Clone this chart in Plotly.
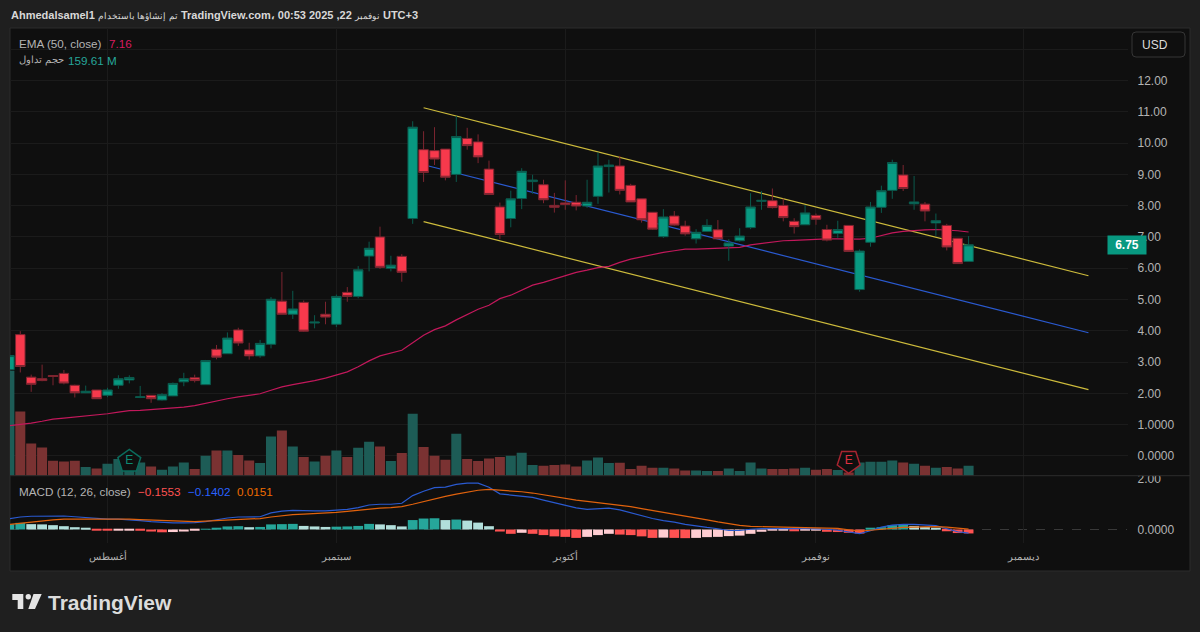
import plotly.graph_objects as go

# sessions are plotted by position, so gaps for weekends don't show
sessions = list(range(89))

opens = [2.76, 3.88, 2.52, 2.47, 2.57, 2.64, 2.26, 2.02, 2.11, 1.94,
         2.26, 2.43, 1.87, 1.94, 1.79, 1.92, 2.37, 2.50, 2.28, 3.41,
         3.27, 4.03, 3.39, 3.20, 3.57, 4.95, 4.53, 4.91, 4.25, 4.53,
         4.21, 5.23, 5.10, 6.39, 7.00, 6.00, 6.38, 7.59, 9.79, 9.76,
         9.81, 9.00, 10.15, 10.04, 9.17, 7.96, 7.59, 8.23, 8.77, 8.67,
         8.01, 8.09, 8.11, 7.99, 8.30, 9.25, 9.27, 8.65, 8.22, 7.79,
         7.01, 7.67, 7.35, 6.94, 7.18, 7.23, 6.71, 6.88, 7.30, 8.14,
         8.16, 8.01, 7.50, 7.39, 7.69, 7.24, 7.11, 7.37, 5.32, 6.83,
         7.95, 8.49, 8.98, 8.06, 8.05, 7.45, 7.37, 6.96, 6.22]
highs = [3.21, 3.99, 2.60, 2.92, 2.57, 2.75, 2.28, 2.25, 2.11, 2.18,
         2.58, 2.58, 2.24, 1.94, 2.01, 2.35, 2.66, 2.60, 3.07, 3.55,
         3.95, 4.10, 3.62, 3.71, 5.08, 5.88, 5.28, 4.97, 4.50, 4.93,
         5.16, 5.40, 6.07, 6.85, 7.33, 6.40, 6.45, 10.70, 10.38, 10.51,
         9.81, 10.87, 10.49, 10.28, 9.44, 8.10, 8.48, 9.20, 8.99, 8.83,
         8.41, 8.81, 8.34, 8.83, 9.70, 9.47, 9.59, 8.70, 8.22, 7.79,
         7.89, 7.83, 7.52, 7.25, 7.57, 7.54, 6.93, 7.28, 8.40, 8.47,
         8.55, 8.23, 7.60, 8.02, 7.75, 7.39, 7.52, 7.37, 6.60, 8.12,
         8.64, 9.47, 9.30, 8.95, 8.12, 7.75, 7.42, 6.96, 7.03]
lows = [2.76, 2.67, 2.05, 2.39, 2.26, 2.29, 1.87, 2.01, 1.83, 1.88,
        2.15, 2.32, 1.85, 1.70, 1.77, 1.91, 2.23, 2.35, 2.27, 3.09,
        3.26, 3.52, 3.08, 3.14, 3.44, 4.53, 4.38, 3.97, 4.08, 4.21,
        4.12, 4.93, 5.04, 5.90, 5.98, 5.90, 5.57, 7.42, 8.76, 9.30,
        8.81, 8.76, 9.79, 9.36, 8.34, 6.93, 7.31, 7.89, 8.38, 8.08,
        7.78, 7.87, 7.85, 7.93, 8.06, 8.42, 8.36, 8.12, 7.46, 7.23,
        6.97, 7.36, 7.04, 6.79, 7.16, 6.93, 6.24, 6.85, 7.25, 7.87,
        7.91, 7.50, 7.11, 7.38, 7.39, 6.86, 6.97, 6.54, 5.25, 6.69,
        7.77, 8.22, 8.47, 7.87, 7.50, 7.04, 6.57, 6.15, 6.21]
closes = [3.21, 2.86, 2.29, 2.41, 2.54, 2.33, 2.02, 2.07, 1.83, 2.11,
          2.47, 2.51, 1.89, 1.83, 1.96, 2.32, 2.47, 2.41, 3.05, 3.16,
          3.77, 3.61, 3.20, 3.60, 5.01, 4.53, 4.70, 3.99, 4.28, 4.44,
          5.10, 5.10, 5.95, 6.64, 6.03, 6.10, 5.87, 10.51, 9.06, 9.49,
          8.91, 10.21, 9.92, 9.56, 8.36, 7.08, 8.22, 9.10, 8.82, 8.19,
          7.95, 8.04, 7.99, 8.11, 9.27, 9.30, 8.49, 8.12, 7.55, 7.25,
          7.64, 7.38, 7.10, 7.15, 7.37, 6.94, 6.81, 7.03, 7.96, 8.17,
          7.94, 7.62, 7.33, 7.77, 7.57, 6.90, 7.24, 6.54, 6.55, 7.96,
          8.48, 9.38, 8.55, 8.12, 7.83, 7.52, 6.68, 6.15, 6.75]

# millions of shares
volumes = [1680, 1029, 517, 453, 240, 229, 240, 139, 117, 192,
           267, 192, 213, 149, 96, 149, 213, 107, 320, 405,
           405, 331, 245, 203, 629, 725, 469, 299, 229, 320,
           405, 299, 448, 544, 469, 235, 363, 992, 459, 320,
           256, 672, 267, 235, 277, 299, 320, 368, 171, 160,
           171, 181, 149, 245, 293, 203, 208, 107, 160, 128,
           128, 117, 85, 85, 75, 75, 117, 75, 213, 117,
           107, 107, 117, 128, 96, 107, 91, 53, 213, 224,
           224, 245, 213, 192, 160, 128, 139, 117, 159.61]

ema50 = [0.97, 1.00, 1.05, 1.11, 1.18, 1.21, 1.24, 1.27, 1.30, 1.35,
         1.40, 1.45, 1.46, 1.48, 1.50, 1.53, 1.56, 1.61, 1.69, 1.75,
         1.83, 1.89, 1.94, 1.99, 2.10, 2.21, 2.28, 2.34, 2.41, 2.49,
         2.58, 2.69, 2.85, 3.04, 3.20, 3.30, 3.38, 3.62, 3.86, 4.04,
         4.16, 4.35, 4.51, 4.69, 4.82, 5.03, 5.14, 5.31, 5.46, 5.55,
         5.66, 5.78, 5.87, 5.94, 6.02, 6.06, 6.19, 6.29, 6.37, 6.45,
         6.51, 6.56, 6.61, 6.61, 6.62, 6.63, 6.65, 6.67, 6.75, 6.80,
         6.85, 6.88, 6.89, 6.91, 6.93, 6.94, 6.94, 6.93, 6.93, 6.96,
         7.04, 7.13, 7.18, 7.21, 7.23, 7.24, 7.23, 7.20, 7.16]

macd_line = [0.42, 0.49, 0.52, 0.53, 0.54, 0.53, 0.50, 0.47, 0.44, 0.41,
             0.41, 0.39, 0.35, 0.31, 0.28, 0.26, 0.26, 0.27, 0.31, 0.38,
             0.45, 0.49, 0.49, 0.50, 0.65, 0.72, 0.75, 0.73, 0.73, 0.73,
             0.76, 0.79, 0.86, 0.96, 0.99, 0.99, 1.03, 1.33, 1.50, 1.64,
             1.66, 1.77, 1.82, 1.82, 1.66, 1.40, 1.35, 1.31, 1.26, 1.15,
             1.05, 0.93, 0.85, 0.79, 0.81, 0.84, 0.77, 0.65, 0.52, 0.43,
             0.35, 0.29, 0.20, 0.13, 0.08, 0.03, -0.04, -0.04, 0.01, 0.03,
             0.04, 0.04, 0.03, 0.03, 0.03, 0.01, -0.03, -0.09, -0.16, -0.05,
             0.09, 0.17, 0.20, 0.20, 0.18, 0.15, 0.03, -0.09, -0.1402]
signal_line = [0.20, 0.25, 0.30, 0.34, 0.38, 0.41, 0.41, 0.42, 0.41, 0.41,
               0.41, 0.41, 0.39, 0.37, 0.35, 0.33, 0.32, 0.31, 0.33, 0.35,
               0.38, 0.40, 0.42, 0.43, 0.49, 0.54, 0.58, 0.60, 0.62, 0.64,
               0.67, 0.71, 0.76, 0.81, 0.84, 0.86, 0.90, 0.99, 1.10, 1.20,
               1.30, 1.39, 1.48, 1.54, 1.57, 1.54, 1.52, 1.48, 1.43, 1.36,
               1.28, 1.22, 1.15, 1.10, 1.05, 1.01, 0.97, 0.90, 0.82, 0.75,
               0.67, 0.60, 0.52, 0.45, 0.38, 0.30, 0.22, 0.16, 0.12, 0.11,
               0.09, 0.09, 0.08, 0.08, 0.07, 0.07, 0.04, -0.01, -0.06, -0.03,
               0.01, 0.05, 0.08, 0.09, 0.11, 0.11, 0.09, 0.05, 0.0151]
macd_hist = [0.21, 0.26, 0.21, 0.20, 0.17, 0.13, 0.09, 0.05, -0.02, -0.03,
             -0.025, -0.02, -0.05, -0.08, -0.11, -0.10, -0.08, -0.05, 0.01, 0.05,
             0.12, 0.13, 0.09, 0.10, 0.20, 0.21, 0.22, 0.14, 0.12, 0.10,
             0.11, 0.12, 0.14, 0.22, 0.20, 0.17, 0.12, 0.37, 0.43, 0.44,
             0.37, 0.39, 0.35, 0.27, 0.13, -0.08, -0.17, -0.13, -0.17, -0.22,
             -0.27, -0.29, -0.33, -0.29, -0.22, -0.17, -0.20, -0.22, -0.27, -0.33,
             -0.32, -0.33, -0.34, -0.33, -0.30, -0.29, -0.26, -0.24, -0.17, -0.09,
             -0.04, -0.03, -0.07, -0.04, -0.03, -0.09, -0.10, -0.13, -0.16, 0.04,
             0.09, 0.17, 0.18, 0.14, 0.10, 0.04, -0.07, -0.14, -0.1553]

# drawn channel: two anchor points each
channel_x = [38, 99]
channel_top = [11.13, 5.76]
channel_mid = [9.31, 3.94]
channel_bottom = [7.49, 2.12]

month_pos = [9, 30, 51, 74, 93]
month_labels = ['أغسطس', 'سبتمبر', 'أكتوبر', 'نوفمبر', 'ديسمبر']

price_ticks = [0, 1, 2, 3, 4, 5, 6, 7, 8, 9, 10, 11, 12, 13]
price_labels = ['0.0000', '1.0000', '2.00', '3.00', '4.00', '5.00', '6.00',
                '7.00', '8.00', '9.00', '10.00', '11.00', '12.00', '']
macd_ticks = [0, 2]
macd_labels = ['0.0000', '2.00']

earnings_up_x = [11]
earnings_down_x = [77]
earnings_y = [-0.17]

FONT = 'Liberation Sans'
BG = '#1f1f1f'
PANEL = '#0f0f0f'
GRID = '#1b1b1b'
EDGE = '#2d2d2d'
TEXT = '#b4b4b4'
UP = '#089981'
DOWN = '#f7394c'
YELLOW = '#cdbb3c'
BLUE = '#2a5ad0'
PINK = '#c2185b'
ORANGE = '#e0620d'


def px(x):
    return x / 1200


def py(y):
    return 1 - y / 632


def label(x, y, text, color=TEXT, size=11.7, anchor='left', **kw):
    return dict(x=px(x), y=py(y), xref='paper', yref='paper', text=text, showarrow=False,
                xanchor=anchor, yanchor='middle', font=dict(family=FONT, size=size, color=color),
                borderpad=0, **kw)


def rounded_rect(x0, y0, x1, y1, r):
    x0, x1 = px(x0), px(x1)
    y0, y1 = py(y0), py(y1)
    rx, ry = r / 1200, r / 632
    return (f'M {x0 + rx} {y0} L {x1 - rx} {y0} Q {x1} {y0} {x1} {y0 - ry} '
            f'L {x1} {y1 + ry} Q {x1} {y1} {x1 - rx} {y1} L {x0 + rx} {y1} '
            f'Q {x0} {y1} {x0} {y1 + ry} L {x0} {y0 - ry} Q {x0} {y0} {x0 + rx} {y0} Z')


def polygon(points):
    return 'M ' + ' L '.join(f'{px(x)} {py(y)}' for x, y in points) + ' Z'


vol_colors = ['#1d5c56' if c >= o else '#7a3232' for o, c in zip(opens, closes)]

hist_colors = []
for i, h in enumerate(macd_hist):
    prev = macd_hist[i - 1] if i else 0
    if h >= 0:
        hist_colors.append('#26a69a' if h >= prev else '#b2dfdb')
    else:
        hist_colors.append('#ffcdd2' if h >= prev else '#ff5252')

fig = go.Figure()

fig.add_trace(go.Bar(x=sessions, y=volumes, marker_color=vol_colors, marker_line_width=0,
                     width=0.92, xaxis='x', yaxis='y', showlegend=False))
for vals, color in [(channel_top, YELLOW), (channel_mid, BLUE), (channel_bottom, YELLOW)]:
    fig.add_trace(go.Scatter(x=channel_x, y=vals, mode='lines', line=dict(color=color, width=1.2),
                             xaxis='x', yaxis='y2', showlegend=False))
fig.add_trace(go.Scatter(x=sessions, y=ema50, mode='lines', line=dict(color=PINK, width=1.2),
                         xaxis='x', yaxis='y2', showlegend=False))
fig.add_trace(go.Candlestick(x=sessions, open=opens, high=highs, low=lows, close=closes,
                             increasing=dict(line=dict(color='#0b5a4d', width=1), fillcolor=UP),
                             decreasing=dict(line=dict(color='#7c2530', width=1), fillcolor=DOWN),
                             whiskerwidth=0, xaxis='x', yaxis='y3', showlegend=False))
fig.add_trace(go.Scatter(x=earnings_up_x, y=earnings_y, mode='markers+text', text=['E'],
                         textposition='middle center', textfont=dict(family=FONT, size=12, color='#0d8a74'),
                         marker=dict(symbol='pentagon', size=24, color=PANEL,
                                     line=dict(color='#0b6b5c', width=1.5)),
                         xaxis='x', yaxis='y3', showlegend=False))
fig.add_trace(go.Scatter(x=earnings_down_x, y=earnings_y, mode='markers+text', text=['E'],
                         textposition='middle center', textfont=dict(family=FONT, size=12, color='#e03040'),
                         marker=dict(symbol='pentagon', size=24, angle=180, color=PANEL,
                                     line=dict(color='#a82430', width=1.5)),
                         xaxis='x', yaxis='y3', showlegend=False))

fig.add_trace(go.Bar(x=sessions, y=macd_hist, marker=dict(color=hist_colors, line_width=0),
                     width=0.9, xaxis='x2', yaxis='y4', showlegend=False))
fig.add_trace(go.Scatter(x=sessions, y=macd_line, mode='lines', line=dict(color=BLUE, width=1.2),
                         xaxis='x2', yaxis='y4', showlegend=False))
fig.add_trace(go.Scatter(x=sessions, y=signal_line, mode='lines', line=dict(color=ORANGE, width=1.2),
                         xaxis='x2', yaxis='y4', showlegend=False))

shapes = [
    dict(type='rect', xref='paper', yref='paper', x0=px(10), x1=px(1190), y0=py(571), y1=py(28),
         fillcolor=PANEL, line=dict(color=EDGE, width=1), layer='below'),
    # zero line of the MACD pane
    dict(type='line', xref='paper', yref='y4', x0=px(10), x1=px(1127), y0=0, y1=0,
         line=dict(color='#3a3a3a', width=1, dash='dash'), layer='below'),
    # keeps the top of the 2.00 label cut off, as the pane above covers it
    dict(type='rect', xref='paper', yref='paper', x0=px(1129), x1=px(1189), y0=py(475.7), y1=py(464),
         fillcolor=PANEL, line_width=0, layer='above'),
    dict(type='line', xref='paper', yref='paper', x0=px(10), x1=px(1190), y0=py(475.7), y1=py(475.7),
         line=dict(color=EDGE, width=1), layer='above'),
    # USD button
    dict(type='path', xref='paper', yref='paper', path=rounded_rect(1132, 32, 1185, 57, 4),
         fillcolor=PANEL, line=dict(color='#363636', width=1), layer='above'),
    # TradingView mark
    dict(type='path', xref='paper', yref='paper', fillcolor='#e4e4e4', line_width=0,
         path=polygon([(12.3, 594), (23.3, 594), (23.3, 609), (17.7, 609), (17.7, 600), (12.3, 600)])),
    dict(type='circle', xref='paper', yref='paper', fillcolor='#e4e4e4', line_width=0,
         x0=px(25.6), x1=px(31), y0=py(599.4), y1=py(594)),
    dict(type='path', xref='paper', yref='paper', fillcolor='#e4e4e4', line_width=0,
         path=polygon([(33.5, 594), (41.7, 594), (35, 609), (28.3, 609)])),
]

title_ar = '<span style="font-size:9px;font-weight:normal">تم إنشاؤها باستخدام</span>'
title_month = '<span style="font-size:9px;font-weight:normal">نوفمبر</span>'
annotations = [
    label(10, 15, f'<b>Ahmedalsamel1 {title_ar} TradingView.com، 00:53 2025 ,22 {title_month} UTC+3</b>',
          color='#d8d8d8', size=11),
    label(18, 43, 'EMA (50, close)'),
    label(108, 43, '7.16', color='#d81b60'),
    label(18, 60, 'حجم تداول', size=9.5),
    label(67, 60, '159.61 M', color='#26a69a'),
    label(18, 491, 'MACD (12, 26, close)'),
    label(137, 491, '−0.1553', color='#ff5252'),
    label(187, 491, '−0.1402', color='#2962ff'),
    label(236, 491, '0.0151', color='#ef6c00'),
    label(1141, 44.5, 'USD', color='#dcdcdc', size=12),
    dict(x=px(1147), y=6.75, xref='paper', yref='y2', text='<b>6.75</b>', showarrow=False,
         font=dict(family=FONT, size=12, color='#ffffff'), bgcolor=UP, width=38, height=18,
         align='center', borderpad=0),
    label(47, 602, '<b>TradingView</b>', color='#dcdcdc', size=21),
]

price_range = [-0.63, 13.68]
axis_font = dict(family=FONT, size=12, color=TEXT)

fig.update_layout(
    width=1200,
    height=632,
    autosize=False,
    margin=dict(l=0, r=0, t=0, b=0),
    paper_bgcolor=BG,
    plot_bgcolor='rgba(0,0,0,0)',
    barmode='overlay',
    boxgap=0.13,
    boxgroupgap=0,
    hovermode=False,
    shapes=shapes,
    annotations=annotations,
    xaxis=dict(domain=[px(10), px(1127.5)], range=[0.055, 102.58], anchor='y', rangeslider_visible=False,
               tickmode='array', tickvals=month_pos, showticklabels=False, ticks='', automargin=False,
               showgrid=True, gridcolor=GRID, gridwidth=1, zeroline=False, showline=False),
    xaxis2=dict(domain=[px(10), px(1127.5)], matches='x', anchor='y4', automargin=False,
                tickmode='array', tickvals=month_pos, ticktext=month_labels, ticks='',
                ticklabelstandoff=6, tickangle=0, tickfont=dict(family=FONT, size=9.5, color=TEXT),
                showgrid=True, gridcolor=GRID, gridwidth=1, zeroline=False, showline=False),
    yaxis=dict(domain=[py(475.7), py(28)], range=[0, 7168], visible=False, fixedrange=True, automargin=False),
    yaxis2=dict(domain=[py(475.7), py(28)], range=price_range, overlaying='y', anchor='x', side='right',
                tickmode='array', tickvals=price_ticks, ticktext=price_labels, tickfont=axis_font,
                ticks='', ticklabelstandoff=9, showgrid=True, gridcolor=GRID, gridwidth=1,
                zeroline=False, showline=False, automargin=False),
    yaxis3=dict(domain=[py(475.7), py(28)], range=price_range, overlaying='y', anchor='x', side='right',
                visible=False, showgrid=False, zeroline=False, automargin=False),
    yaxis4=dict(domain=[py(543), py(475.7)], range=[-0.53, 2.11], anchor='x2', side='right',
                tickmode='array', tickvals=macd_ticks, ticktext=macd_labels, tickfont=axis_font,
                ticks='', ticklabelstandoff=9, showgrid=False, zeroline=False, showline=False, automargin=False),
)

# the browser's default body margin would shift the whole page by 8px
fig.write_html("out.html", config={'displayModeBar': False}, post_script="document.body.style.margin='0';")
